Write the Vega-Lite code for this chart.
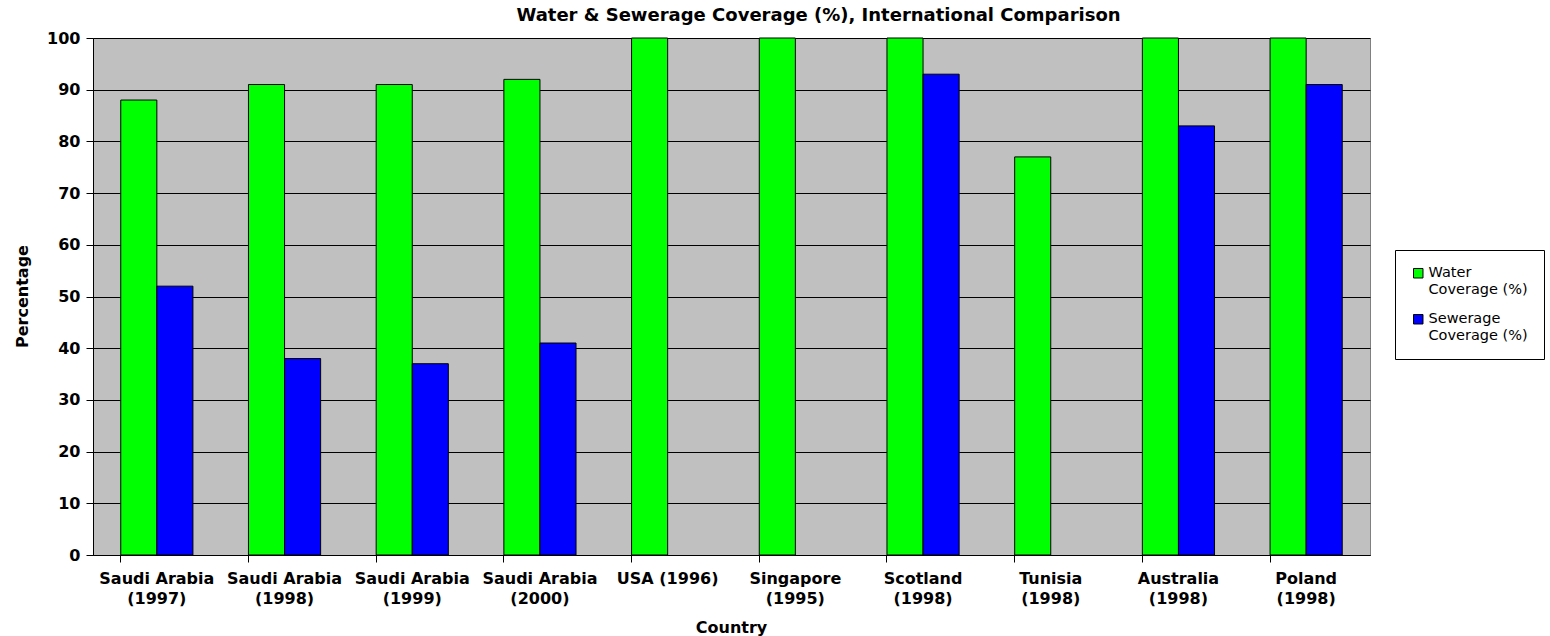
{
  "$schema": "https://vega.github.io/schema/vega-lite/v6.json",
  "width": 1277,
  "height": 517,
  "autosize": {"type": "none"},
  "padding": {"left": 93, "top": 38, "right": 180, "bottom": 81},
  "background": "white",
  "title": {
    "text": "Water & Sewerage Coverage (%), International Comparison",
    "font": "DejaVu Sans",
    "fontSize": 18,
    "fontWeight": "bold",
    "color": "black",
    "anchor": "middle",
    "dx": 87,
    "offset": 5
  },
  "config": {
    "view": {"fill": "#C0C0C0", "stroke": "#808080", "strokeWidth": 1},
    "axis": {
      "labelFont": "DejaVu Sans",
      "labelFontSize": 16,
      "labelFontWeight": "bold",
      "labelColor": "black",
      "titleFont": "DejaVu Sans",
      "titleFontSize": 16,
      "titleFontWeight": "bold",
      "titleColor": "black",
      "domainColor": "black",
      "tickColor": "black"
    }
  },
  "data": {
    "values": [
      {"country": "Saudi Arabia (1997)", "series": "Water Coverage (%)", "value": 88},
      {"country": "Saudi Arabia (1997)", "series": "Sewerage Coverage (%)", "value": 52},
      {"country": "Saudi Arabia (1998)", "series": "Water Coverage (%)", "value": 91},
      {"country": "Saudi Arabia (1998)", "series": "Sewerage Coverage (%)", "value": 38},
      {"country": "Saudi Arabia (1999)", "series": "Water Coverage (%)", "value": 91},
      {"country": "Saudi Arabia (1999)", "series": "Sewerage Coverage (%)", "value": 37},
      {"country": "Saudi Arabia (2000)", "series": "Water Coverage (%)", "value": 92},
      {"country": "Saudi Arabia (2000)", "series": "Sewerage Coverage (%)", "value": 41},
      {"country": "USA (1996)", "series": "Water Coverage (%)", "value": 100},
      {"country": "Singapore (1995)", "series": "Water Coverage (%)", "value": 100},
      {"country": "Scotland (1998)", "series": "Water Coverage (%)", "value": 100},
      {"country": "Scotland (1998)", "series": "Sewerage Coverage (%)", "value": 93},
      {"country": "Tunisia (1998)", "series": "Water Coverage (%)", "value": 77},
      {"country": "Australia (1998)", "series": "Water Coverage (%)", "value": 100},
      {"country": "Australia (1998)", "series": "Sewerage Coverage (%)", "value": 83},
      {"country": "Poland (1998)", "series": "Water Coverage (%)", "value": 100},
      {"country": "Poland (1998)", "series": "Sewerage Coverage (%)", "value": 91}
    ]
  },
  "layer": [
    {
      "mark": {"type": "bar", "stroke": "black", "strokeWidth": 1},
      "encoding": {
        "x": {
          "field": "country",
          "type": "nominal",
          "sort": null,
          "scale": {"paddingInner": 0.435, "paddingOuter": 0.2175},
          "axis": {
            "orient": "bottom",
            "title": "Country",
            "titleX": 638,
            "titleY": 72,
            "titleBaseline": "middle",
            "labelAngle": 0,
            "labelBaseline": "top",
            "labelLineHeight": 20,
            "labelPadding": 15,
            "ticks": false,
            "domain": true,
            "labelExpr": "datum.label == 'USA (1996)' ? datum.label : split(replace(datum.label, ' (', '|('), '|')"
          }
        },
        "xOffset": {
          "field": "series",
          "type": "nominal",
          "scale": {"domain": ["Water Coverage (%)", "Sewerage Coverage (%)"], "paddingInner": 0, "paddingOuter": 0}
        },
        "y": {
          "field": "value",
          "type": "quantitative",
          "scale": {"domain": [0, 100], "nice": false},
          "axis": {
            "title": "Percentage",
            "titleX": -71,
            "titleY": 258,
            "titleAngle": -90,
            "titleBaseline": "middle",
            "titleAlign": "center",
            "values": [0, 10, 20, 30, 40, 50, 60, 70, 80, 90, 100],
            "grid": true,
            "gridColor": "black",
            "gridOpacity": 1,
            "gridWidth": 1,
            "tickSize": 7,
            "labelPadding": 6
          }
        },
        "color": {
          "field": "series",
          "type": "nominal",
          "scale": {"domain": ["Water Coverage (%)", "Sewerage Coverage (%)"], "range": ["#00FF00", "#0000FF"]},
          "legend": {
            "orient": "none",
            "legendX": 1302,
            "legendY": 212,
            "title": null,
            "fillColor": "white",
            "strokeColor": "black",
            "padding": 16,
            "symbolType": "square",
            "symbolSize": 90,
            "symbolStrokeColor": "black",
            "symbolStrokeWidth": 1,
            "labelFont": "DejaVu Sans",
            "labelFontSize": 14.5,
            "labelColor": "black",
            "labelLineHeight": 16,
            "labelBaseline": "top",
            "rowPadding": 14,
            "labelOffset": 3,
            "labelExpr": "split(replace(datum.label, ' Coverage', '|Coverage'), '|')",
            "encode": {"labels": {"update": {"dy": {"value": -7}}}}
          }
        }
      }
    },
    {
      "mark": {"type": "rule", "opacity": 0},
      "encoding": {
        "x": {
          "field": "country",
          "type": "nominal",
          "sort": null,
          "axis": {
            "orient": "bottom",
            "bandPosition": 0,
            "labels": false,
            "domain": false,
            "title": null,
            "ticks": true,
            "tickSize": 7,
            "tickColor": "black"
          }
        }
      }
    }
  ],
  "resolve": {"axis": {"x": "independent"}}
}
